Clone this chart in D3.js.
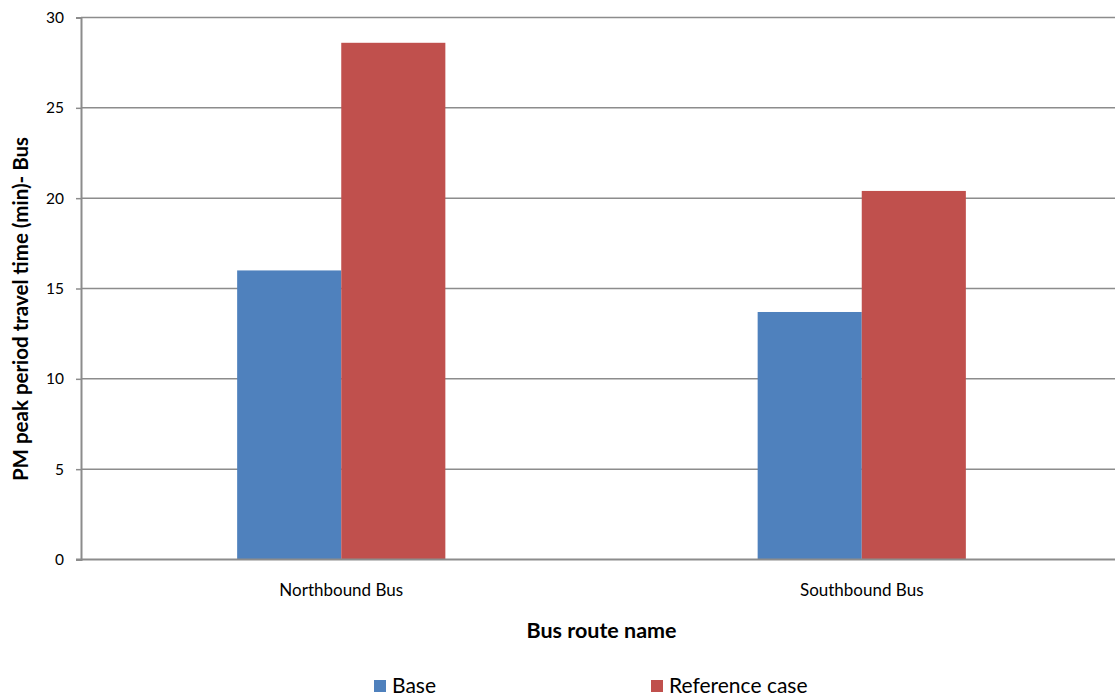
<!DOCTYPE html>
<html>
<head>
<meta charset="utf-8">
<script src="https://cdn.jsdelivr.net/npm/d3@7"></script>
<style>
  html, body { margin: 0; padding: 0; background: #fff; }
  svg { display: block; font-family: "Lato", "Open Sans", sans-serif; }
</style>
</head>
<body>
<svg id="chart" width="1115" height="700"></svg>
<script>
// Bus routes on the x axis
const categories = ["Northbound Bus", "Southbound Bus"];
// Series shown in the legend
const seriesNames = ["Base", "Reference case"];
// PM peak period travel time in minutes, per route
const baseValues = [16.0, 13.7];
const referenceValues = [28.6, 20.4];
// Value axis ticks
const yTicks = [0, 5, 10, 15, 20, 25, 30];

const colors = ["#4F81BD", "#C0504D"];
const seriesValues = [baseValues, referenceValues];

const svg = d3.select("#chart");
const plot = { left: 81, right: 1122, top: 17.5, bottom: 559.5 };

const x0 = d3.scaleBand()
  .domain(categories)
  .range([plot.left, plot.right])
  .paddingInner(0.6)
  .paddingOuter(0.3);

const x1 = d3.scaleBand()
  .domain(seriesNames)
  .range([0, x0.bandwidth()]);

const y = d3.scaleLinear()
  .domain([0, 30])
  .range([plot.bottom, plot.top]);

// Horizontal gridlines
svg.append("g")
  .selectAll("line")
  .data(yTicks.filter(d => d > 0))
  .join("line")
  .attr("x1", plot.left)
  .attr("x2", plot.right)
  .attr("y1", d => y(d))
  .attr("y2", d => y(d))
  .attr("stroke", "#8c8c8c")
  .attr("stroke-width", 1.5);

// Bars
const groups = svg.append("g")
  .selectAll("g")
  .data(categories)
  .join("g")
  .attr("transform", d => `translate(${x0(d)},0)`);

groups.selectAll("rect")
  .data((d, i) => seriesNames.map((s, j) => ({ series: s, value: seriesValues[j][i], color: colors[j] })))
  .join("rect")
  .attr("x", d => x1(d.series))
  .attr("width", x1.bandwidth())
  .attr("y", d => y(d.value))
  .attr("height", d => y(0) - y(d.value))
  .attr("fill", d => d.color);

// Y axis
const yAxis = svg.append("g")
  .attr("transform", `translate(${plot.left},0)`)
  .call(d3.axisLeft(y).tickValues(yTicks).tickSize(5).tickPadding(12).tickFormat(d3.format("d")));
yAxis.select(".domain").attr("stroke", "#8c8c8c").attr("stroke-width", 2);
yAxis.selectAll(".tick line").attr("stroke", "#8c8c8c").attr("stroke-width", 1.5);
yAxis.selectAll(".tick text")
  .attr("font-family", "Lato, sans-serif")
  .attr("font-size", 15.5)
  .attr("fill", "#000");

// X axis baseline
svg.append("line")
  .attr("x1", plot.left - 5)
  .attr("x2", plot.right)
  .attr("y1", plot.bottom)
  .attr("y2", plot.bottom)
  .attr("stroke", "#8c8c8c")
  .attr("stroke-width", 2);

// Category labels
svg.append("g")
  .selectAll("text")
  .data(categories)
  .join("text")
  .attr("x", d => x0(d) + x0.bandwidth() / 2)
  .attr("y", 596)
  .attr("text-anchor", "middle")
  .attr("font-size", 17)
  .attr("fill", "#000")
  .text(d => d);

// Axis titles
svg.append("text")
  .attr("x", (plot.left + plot.right) / 2)
  .attr("y", 638)
  .attr("text-anchor", "middle")
  .attr("font-size", 21.5)
  .attr("font-weight", "bold")
  .attr("fill", "#000")
  .text("Bus route name");

svg.append("text")
  .attr("transform", "translate(28,309) rotate(-90)")
  .attr("text-anchor", "middle")
  .attr("font-size", 20.5)
  .attr("font-weight", "bold")
  .attr("fill", "#000")
  .text("PM peak period travel time (min)- Bus");

// Legend
const legendX = [374, 651];
const legend = svg.append("g")
  .selectAll("g")
  .data(seriesNames)
  .join("g")
  .attr("transform", (d, i) => `translate(${legendX[i]},680)`);

legend.append("rect")
  .attr("width", 12)
  .attr("height", 12)
  .attr("fill", (d, i) => colors[i]);

legend.append("text")
  .attr("x", 18)
  .attr("y", 13)
  .attr("font-size", 21)
  .attr("fill", "#000")
  .text(d => d);
</script>
</body>
</html>
